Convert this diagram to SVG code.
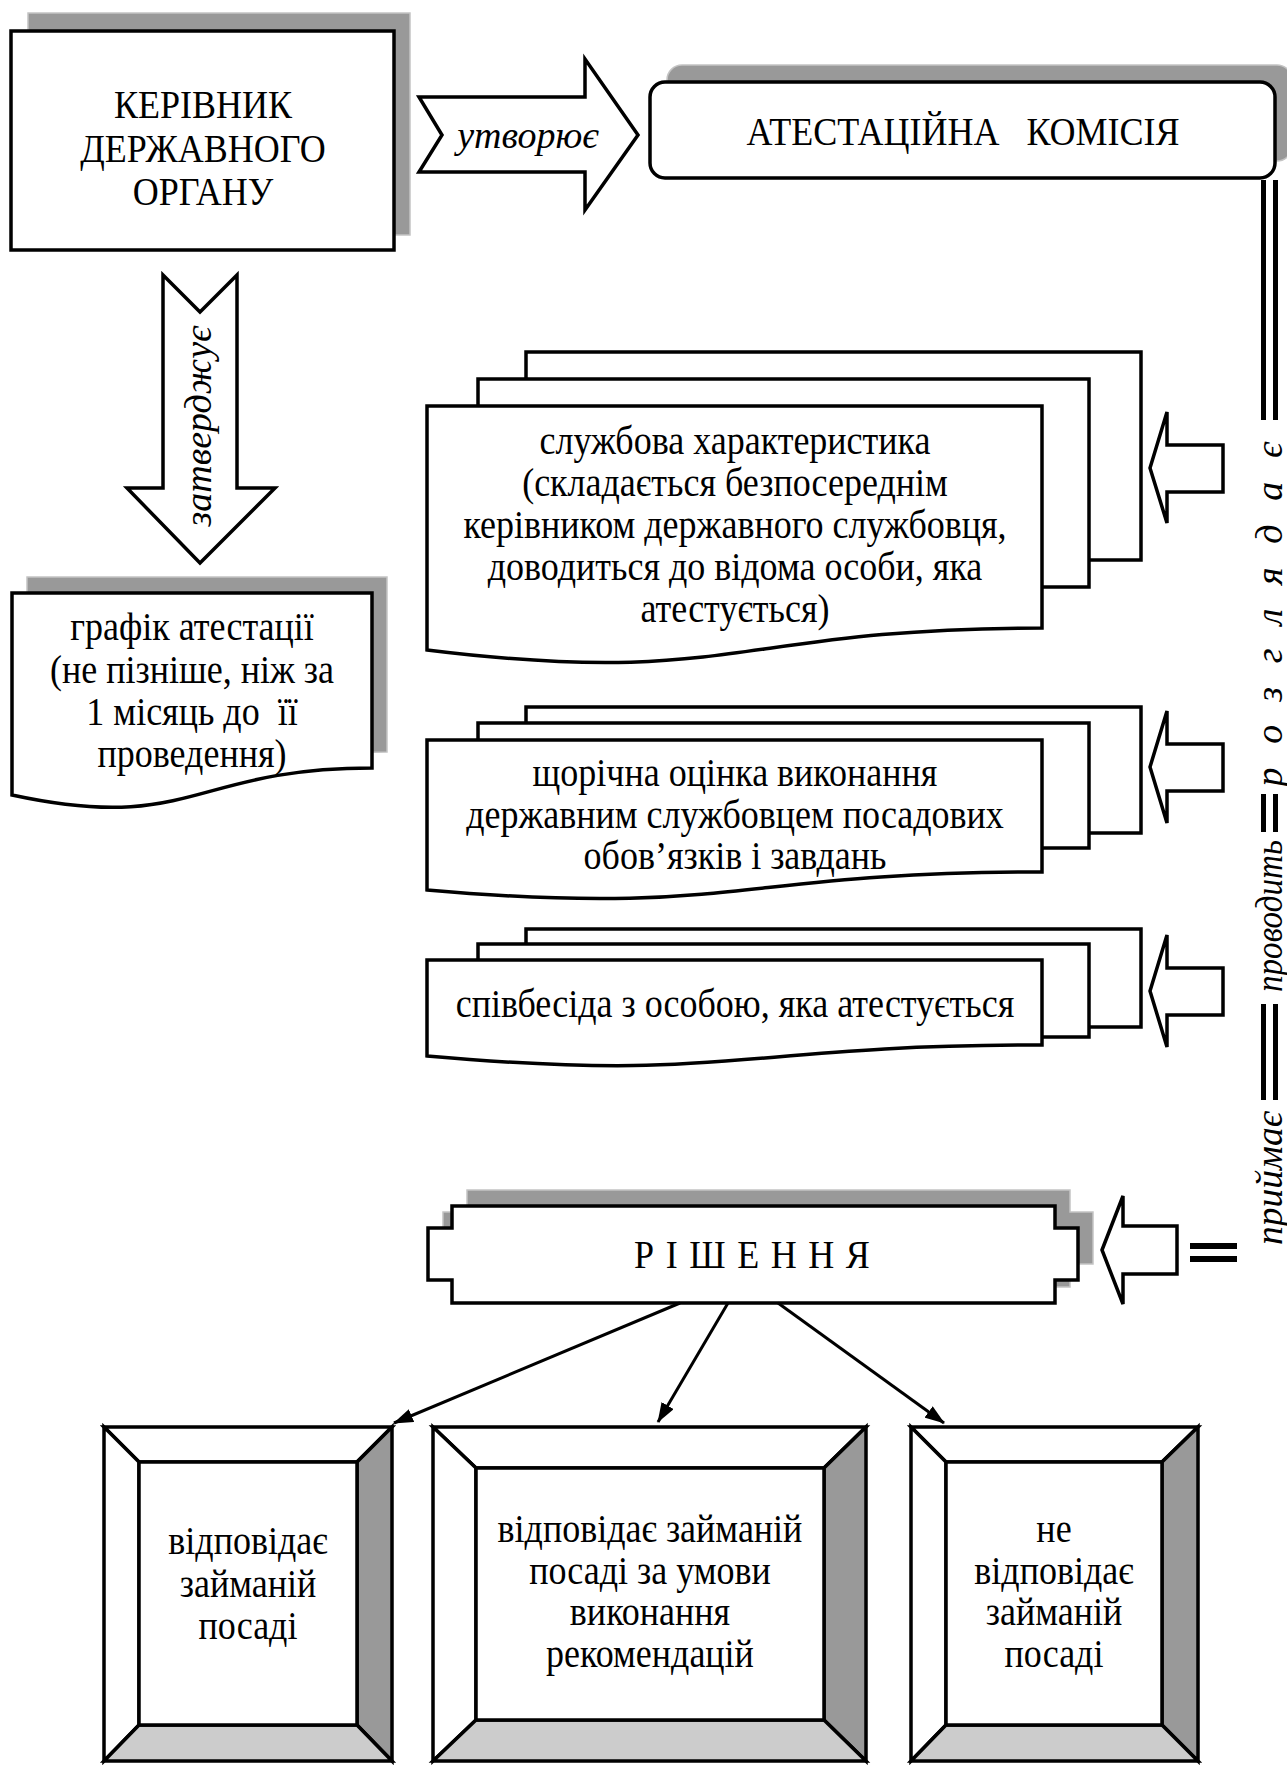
<svg xmlns="http://www.w3.org/2000/svg" width="1287" height="1765" viewBox="0 0 1287 1765">
  <defs>
    <style>
      .box { fill: #fff; stroke: #000; stroke-width: 3.5; stroke-linejoin: miter; }
      .shadow { fill: #999; stroke: #c4c4c4; stroke-width: 1.5; }
      .dark { fill: #999; stroke: #000; stroke-width: 3.5; stroke-linejoin: miter; }
      .light { fill: #ccc; stroke: #000; stroke-width: 3.5; stroke-linejoin: miter; }
      .t { font-family: "Liberation Serif", "Times New Roman", serif; font-size: 40px; fill: #000; text-anchor: middle;
           transform: scaleX(0.9); transform-box: fill-box; transform-origin: center; }
      .v { font-family: "Liberation Serif", "Times New Roman", serif; font-size: 38px; font-style: italic; fill: #000; text-anchor: middle; }
      .bar { fill: #000; }
      .conn { stroke: #000; stroke-width: 3; fill: none; marker-end: url(#ah); }
    </style>
    <marker id="ah" viewBox="0 0 20 14" refX="19" refY="7" markerWidth="20" markerHeight="14" markerUnits="userSpaceOnUse" orient="auto">
      <path d="M0,0 L20,7 L0,14 Z" fill="#000"/>
    </marker>
  </defs>

  <!-- head of the state body -->
  <g id="head">
    <rect class="shadow" x="28" y="13" width="382" height="222"/>
    <rect class="box" x="11" y="31" width="383" height="219"/>
    <text class="t" x="203" y="118">КЕРІВНИК</text>
    <text class="t" x="203" y="162">ДЕРЖАВНОГО</text>
    <text class="t" x="203" y="205">ОРГАНУ</text>
  </g>

  <!-- block arrow "creates" -->
  <g id="creates">
    <path class="box" d="M419,97 H585 V59 L638,135 L585,210 V172 H419 L442,135 Z"/>
    <text class="v" x="528" y="148">утворює</text>
  </g>

  <!-- attestation commission -->
  <g id="commission">
    <rect class="shadow" x="667" y="65" width="625" height="96" rx="15"/>
    <rect class="box" x="650" y="82" width="625" height="96" rx="15"/>
    <text class="t" x="963" y="145" xml:space="preserve">АТЕСТАЦІЙНА   КОМІСІЯ</text>
  </g>

  <!-- block arrow "approves" -->
  <g id="approves">
    <path class="box" d="M163,275 L200,312 L237,275 V488 H275 L200,563 L127,488 H163 Z"/>
    <text class="v" transform="translate(211,426) rotate(-90)">затверджує</text>
  </g>

  <!-- attestation schedule -->
  <g id="schedule">
    <path class="shadow" d="M27,577 H387 V752 C207,752 207,818 27,779 Z"/>
    <path class="box" d="M12,593 H372 V768 C192,768 192,834 12,795 Z"/>
    <text class="t" x="192" y="640">графік атестації</text>
    <text class="t" x="192" y="683">(не пізніше, ніж за</text>
    <text class="t" x="192" y="725" xml:space="preserve">1 місяць до  її</text>
    <text class="t" x="192" y="767">проведення)</text>
  </g>

  <!-- service characteristic -->
  <g id="characteristic">
    <rect class="box" x="526" y="352" width="615" height="208"/>
    <rect class="box" x="478" y="379" width="611" height="208"/>
    <path class="box" d="M427,406 H1042 V628 C734,628 734,688 427,650 Z"/>
    <text class="t" x="735" y="454">службова характеристика</text>
    <text class="t" x="735" y="496">(складається безпосереднім</text>
    <text class="t" x="735" y="538">керівником державного службовця,</text>
    <text class="t" x="735" y="580">доводиться до відома особи, яка</text>
    <text class="t" x="735" y="622">атестується)</text>
  </g>

  <!-- annual evaluation -->
  <g id="evaluation">
    <rect class="box" x="526" y="707" width="615" height="126"/>
    <rect class="box" x="478" y="723" width="611" height="125"/>
    <path class="box" d="M427,740 H1042 V872 C734,872 734,917 427,890 Z"/>
    <text class="t" x="735" y="786">щорічна оцінка виконання</text>
    <text class="t" x="735" y="828">державним службовцем посадових</text>
    <text class="t" x="735" y="869">обов’язків і завдань</text>
  </g>

  <!-- interview -->
  <g id="interview">
    <rect class="box" x="526" y="929" width="615" height="98"/>
    <rect class="box" x="478" y="944" width="611" height="93"/>
    <path class="box" d="M427,960 H1042 V1045 C734,1045 734,1083 427,1056 Z"/>
    <text class="t" x="735" y="1017">співбесіда з особою, яка атестується</text>
  </g>

  <!-- decision -->
  <g id="decision">
    <path class="shadow" d="M467,1190 H1070 V1212 H1093 V1264 H1070 V1287 H467 V1264 H443 V1212 H467 Z"/>
    <path class="box" d="M452,1206 H1055 V1228 H1078 V1280 H1055 V1303 H452 V1280 H428 V1228 H452 Z"/>
    <text class="t" x="752" y="1268" textLength="262" lengthAdjust="spacing">Р І Ш Е Н Н Я</text>
  </g>

  <!-- outcome: fits the post -->
  <g id="fits">
    <polygon class="box" points="104,1427 392,1427 357,1462 139,1462"/>
    <polygon class="box" points="104,1427 139,1462 139,1725 104,1761"/>
    <polygon class="dark" points="392,1427 392,1761 357,1725 357,1462"/>
    <polygon class="light" points="104,1761 392,1761 357,1725 139,1725"/>
    <rect class="box" x="139" y="1462" width="218" height="263"/>
    <text class="t" x="248" y="1554">відповідає</text>
    <text class="t" x="248" y="1597">займаній</text>
    <text class="t" x="248" y="1639">посаді</text>
  </g>

  <!-- outcome: fits the post on condition -->
  <g id="fits-conditionally">
    <polygon class="box" points="433,1427 866,1427 824,1468 476,1468"/>
    <polygon class="box" points="433,1427 476,1468 476,1720 433,1761"/>
    <polygon class="dark" points="866,1427 866,1761 824,1720 824,1468"/>
    <polygon class="light" points="433,1761 866,1761 824,1720 476,1720"/>
    <rect class="box" x="476" y="1468" width="348" height="252"/>
    <text class="t" x="650" y="1542">відповідає займаній</text>
    <text class="t" x="650" y="1584">посаді за умови</text>
    <text class="t" x="650" y="1625">виконання</text>
    <text class="t" x="650" y="1667">рекомендацій</text>
  </g>

  <!-- outcome: does not fit the post -->
  <g id="does-not-fit">
    <polygon class="box" points="911,1427 1198,1427 1162,1462 946,1462"/>
    <polygon class="box" points="911,1427 946,1462 946,1725 911,1761"/>
    <polygon class="dark" points="1198,1427 1198,1761 1162,1725 1162,1462"/>
    <polygon class="light" points="911,1761 1198,1761 1162,1725 946,1725"/>
    <rect class="box" x="946" y="1462" width="216" height="263"/>
    <text class="t" x="1054" y="1542">не</text>
    <text class="t" x="1054" y="1584">відповідає</text>
    <text class="t" x="1054" y="1625">займаній</text>
    <text class="t" x="1054" y="1667">посаді</text>
  </g>

  <!-- commission column: double rule with verbs -->
  <g id="commission-line">
    <rect class="bar" x="1261" y="180" width="5" height="240"/>
    <rect class="bar" x="1273" y="180" width="5" height="240"/>
    <text class="v" transform="translate(1282,614) rotate(-90)" textLength="345" lengthAdjust="spacing">розглядає</text>
    <rect class="bar" x="1261" y="794" width="5" height="38"/>
    <rect class="bar" x="1273" y="794" width="5" height="38"/>
    <text class="v" transform="translate(1282,916) rotate(-90)" textLength="152" lengthAdjust="spacingAndGlyphs">проводить</text>
    <rect class="bar" x="1261" y="1004" width="5" height="96"/>
    <rect class="bar" x="1273" y="1004" width="5" height="96"/>
    <text class="v" transform="translate(1282,1178) rotate(-90)" textLength="134" lengthAdjust="spacingAndGlyphs">приймає</text>
    <rect class="bar" x="1190" y="1243" width="47" height="6"/>
    <rect class="bar" x="1190" y="1256" width="47" height="6"/>
  </g>

  <g id="connectors">
    <path class="box" d="M1150,468 L1167,412 V445 H1223 V492 H1167 V523 Z"/>
    <path class="box" d="M1150,767 L1167,711 V744 H1223 V791 H1167 V823 Z"/>
    <path class="box" d="M1150,991 L1167,935 V968 H1223 V1015 H1167 V1047 Z"/>
    <path class="box" d="M1102,1250 L1123,1196 V1226 H1177 V1274 H1123 V1304 Z"/>
    <line class="conn" x1="680" y1="1303" x2="394" y2="1423"/>
    <line class="conn" x1="728" y1="1303" x2="658" y2="1422"/>
    <line class="conn" x1="778" y1="1303" x2="944" y2="1423"/>
  </g>
</svg>
